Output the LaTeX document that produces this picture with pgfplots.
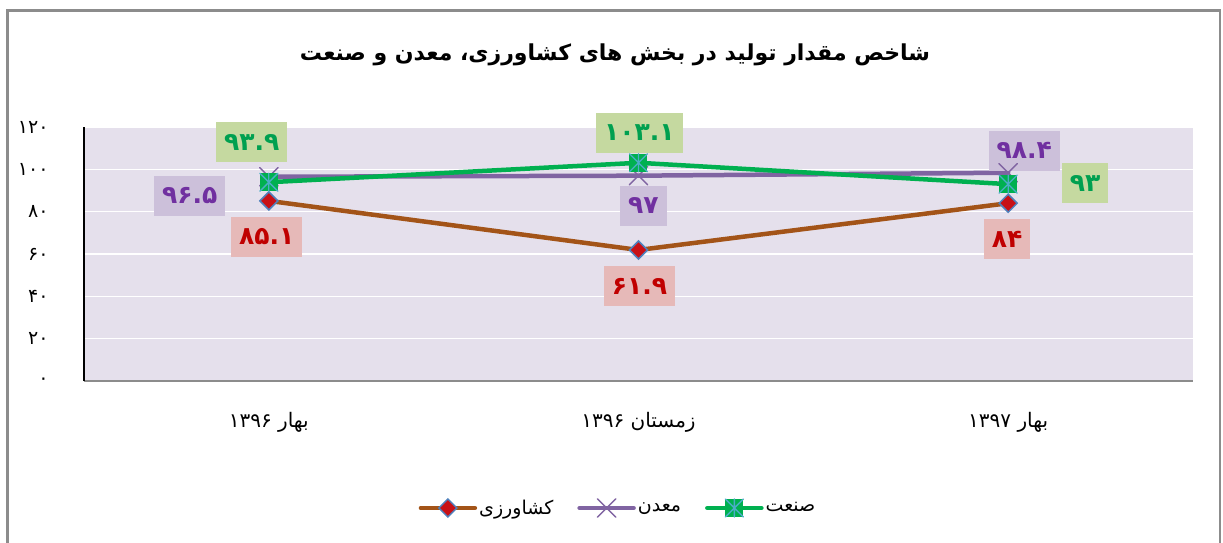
\documentclass[border=0pt]{standalone}
\usepackage{pgfplots}
\pgfplotsset{compat=1.18}
\usepackage{fontspec}
\setmainfont{DejaVu Sans}
\newfontfamily\arabicfont[Script=Arabic]{DejaVu Sans}
\TeXXeTstate=1
\definecolor{agbrown}{RGB}{163,84,24}
\definecolor{agred}{RGB}{200,16,22}
\definecolor{mkblue}{RGB}{79,129,189}
\definecolor{minpurple}{RGB}{128,100,162}
\definecolor{indgreen}{RGB}{0,176,80}
\definecolor{starblue}{RGB}{75,172,198}
\definecolor{plotbg}{RGB}{229,224,236}
\definecolor{lblgreenbg}{RGB}{197,217,160}
\definecolor{lblgreentx}{RGB}{0,160,80}
\definecolor{lblpurplebg}{RGB}{204,192,218}
\definecolor{lblpurpletx}{RGB}{112,48,160}
\definecolor{lblredbg}{RGB}{230,185,184}
\definecolor{lblredtx}{RGB}{192,0,0}
\definecolor{framegray}{RGB}{140,140,140}

\pgfdeclareplotmark{agdia}{%
  \pgfpathmoveto{\pgfqpoint{0pt}{\pgfplotmarksize}}%
  \pgfpathlineto{\pgfqpoint{\pgfplotmarksize}{0pt}}%
  \pgfpathlineto{\pgfqpoint{0pt}{-\pgfplotmarksize}}%
  \pgfpathlineto{\pgfqpoint{-\pgfplotmarksize}{0pt}}%
  \pgfpathclose
  \pgfusepathqfillstroke}
\pgfdeclareplotmark{sqstar}{%
  \pgfpathrectangle{\pgfqpoint{-\pgfplotmarksize}{-\pgfplotmarksize}}{\pgfqpoint{2\pgfplotmarksize}{2\pgfplotmarksize}}%
  \pgfsetfillcolor{indgreen}\pgfusepathqfill
  \pgfsetstrokecolor{starblue}\pgfsetlinewidth{1.3pt}%
  \pgfpathmoveto{\pgfqpoint{-\pgfplotmarksize}{-\pgfplotmarksize}}\pgfpathlineto{\pgfqpoint{\pgfplotmarksize}{\pgfplotmarksize}}%
  \pgfpathmoveto{\pgfqpoint{-\pgfplotmarksize}{\pgfplotmarksize}}\pgfpathlineto{\pgfqpoint{\pgfplotmarksize}{-\pgfplotmarksize}}%
  \pgfpathmoveto{\pgfqpoint{0pt}{-\pgfplotmarksize}}\pgfpathlineto{\pgfqpoint{0pt}{\pgfplotmarksize}}%
  \pgfusepathqstroke}

\tikzset{lbl/.style={font=\arabicfont\bfseries\fontsize{25}{27}\selectfont, inner xsep=8pt, minimum height=40pt, anchor=center}}

\begin{document}
\begin{tikzpicture}[x=1pt,y=1pt]
\useasboundingbox (0,0) rectangle (1223,542);
\draw[framegray, line width=2.5pt] (7.5,-2) -- (7.5,531.5) -- (1220,531.5) -- (1220,-2);
\begin{axis}[
  at={(84pt,161pt)}, anchor=south west,
  scale only axis, width=1109pt, height=254pt,
  xmin=-0.5, xmax=2.5, ymin=0, ymax=120,
  clip=false,
  axis background/.style={fill=plotbg},
  axis x line*=bottom, axis y line*=left,
  x axis line style={-, draw=framegray, line width=2pt},
  y axis line style={-, draw=black, line width=1.5pt},
  major tick length=0pt,
  ytick={0,20,40,60,80,100,120},
  yticklabels={۰,۲۰,۴۰,۶۰,۸۰,۱۰۰,۱۲۰},
  yticklabel style={font=\arabicfont\fontsize{19}{22}\selectfont, xshift=-32pt},
  xtick={0,1,2},
  xticklabels={{\beginR بهار \beginL۱۳۹۶\endL\endR},{\beginR زمستان \beginL۱۳۹۶\endL\endR},{\beginR بهار \beginL۱۳۹۷\endL\endR}},
  xticklabel style={font=\arabicfont\fontsize{20}{23}\selectfont, yshift=-28pt},
  ymajorgrids, grid style={white, line width=1.3pt},
  legend style={at={(0.4815,-0.5)}, anchor=center, draw=none, fill=none,
    font=\arabicfont\fontsize{19}{22}\selectfont,
    /tikz/every even column/.append style={column sep=22pt}},
  legend columns=3,
  legend image code/.code={\draw[mark repeat=2,mark phase=2,#1] plot coordinates {(0pt,0pt)(27pt,0pt)(54pt,0pt)};},
]
\addplot[agbrown, line width=4.5pt, line cap=round, mark=agdia, mark size=9pt, mark options={fill=agred, draw=mkblue, line width=1.5pt}]
  coordinates {(0,85.1) (1,61.9) (2,84)};
\addlegendentry{\beginR کشاورزی\endR}
\addplot[minpurple, line width=4.5pt, line cap=round, mark=x, mark size=13pt, mark options={draw=minpurple, line width=1.5pt}]
  coordinates {(0,96.5) (1,97) (2,98.4)};
\addlegendentry{\beginR معدن\endR}
\addplot[indgreen, line width=4.5pt, line cap=round, mark=sqstar, mark size=9pt]
  coordinates {(0,93.9) (1,103.1) (2,93)};
\addlegendentry{\beginR صنعت\endR}

\node[lbl, fill=lblredbg, text=lblredtx] at (axis cs:0,85.1) [xshift=-2pt, yshift=-36pt] {۸۵.۱};
\node[lbl, fill=lblredbg, text=lblredtx] at (axis cs:1,61.9) [xshift=1pt, yshift=-36pt] {۶۱.۹};
\node[lbl, fill=lblredbg, text=lblredtx] at (axis cs:2,84) [xshift=-1pt, yshift=-36pt] {۸۴};
\node[lbl, fill=lblpurplebg, text=lblpurpletx] at (axis cs:0,96.5) [xshift=-79pt, yshift=-19pt] {۹۶.۵};
\node[lbl, fill=lblpurplebg, text=lblpurpletx] at (axis cs:1,97) [xshift=5pt, yshift=-30pt] {۹۷};
\node[lbl, fill=lblpurplebg, text=lblpurpletx] at (axis cs:2,98.4) [xshift=16pt, yshift=22pt] {۹۸.۴};
\node[lbl, fill=lblgreenbg, text=lblgreentx] at (axis cs:0,93.9) [xshift=-17pt, yshift=40pt] {۹۳.۹};
\node[lbl, fill=lblgreenbg, text=lblgreentx] at (axis cs:1,103.1) [xshift=1pt, yshift=30pt] {۱۰۳.۱};
\node[lbl, fill=lblgreenbg, text=lblgreentx] at (axis cs:2,93) [xshift=77pt, yshift=1pt] {۹۳};
\end{axis}
\node[font=\arabicfont\bfseries\fontsize{22}{26}\selectfont] at (615,487) {\beginR شاخص مقدار تولید در بخش های کشاورزی، معدن و صنعت\endR};
\end{tikzpicture}
\end{document}
